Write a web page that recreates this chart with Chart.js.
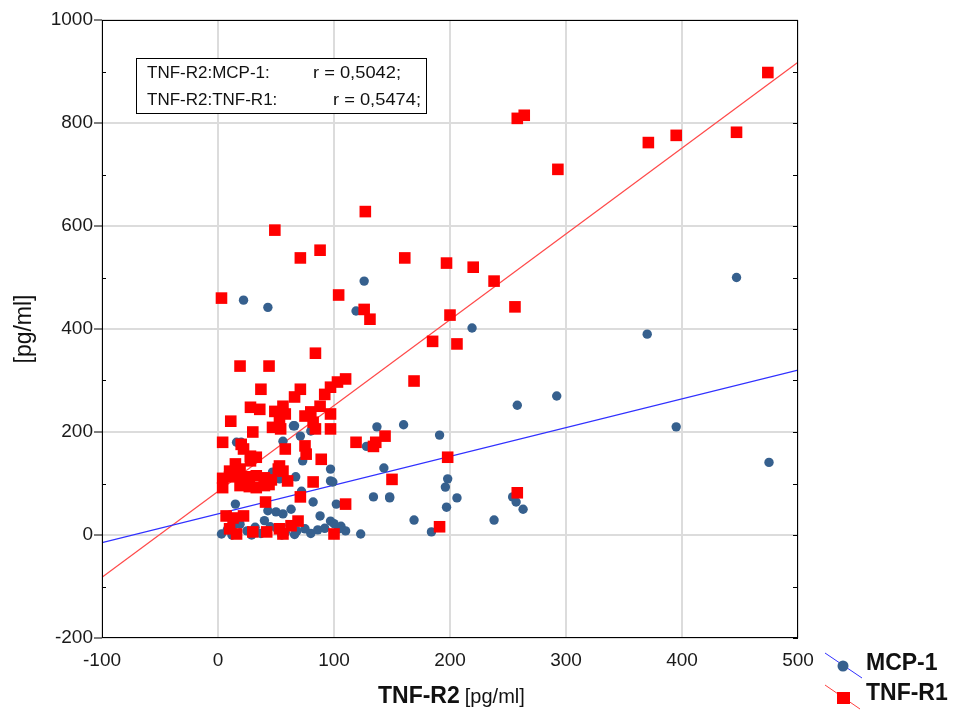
<!DOCTYPE html>
<html>
<head>
<meta charset="utf-8">
<script src="https://cdn.jsdelivr.net/npm/chart.js@4"></script>
<style>
  html, body { margin: 0; padding: 0; background: #fff; }
  #wrap { position: relative; width: 954px; height: 717px; }
</style>
</head>
<body>
<div id="wrap"><canvas id="scatter" width="954" height="717"></canvas></div>
<script>
// TNF-R2 vs MCP-1 (blue circles)
const mcpX = [22, 43, 126, 119, 219, 370, 447, 292, 258, 395, 475, 198, 196, 143, 206, 148, 197, 169, 238, 184,
	254, 257, 263, 191, 160, 137, 134, 66, 80, 56, 20, 71, 73, 97, 47, 53, 67, 97, 72, 82,
	102, 15, 43, 50, 56, 63, 88, 97, 106, 110, 123, 128, 16, 65, 59, 3, 8, 14, 19, 25,
	32, 37, 45, 51, 58, 62, 68, 75, 80, 86, 92, 100, 104, 40, 29, 55, 66, 12, 148, 99];
const mcpY = [456, 442, 493, 435, 402, 390, 500, 270, 252, 210, 141, 109, 93, 130, 72, 72, 54, 29, 29, 6,
	74, 64, 50, 194, 214, 210, 74, 212, 202, 182, 180, 192, 144, 128, 122, 109, 113, 105, 85, 64,
	60, 60, 47, 45, 41, 50, 37, 27, 17, 8, 2, 172, 180, 212, 105, 2, 10, 20, 21, 8,
	15, 3, 16, 12, 5, 19, 8, 12, 3, 10, 13, 22, 12, 28, 0, 0, 1, 0, 74, 103];

// TNF-R2 vs TNF-R1 (red squares)
const r1X = [474, 395, 371, 447, 293, 258, 264, 238, 256, 220, 197, 200, 206, 185, 169, 161, 127, 126, 131, 104,
	88, 71, 49, 3, 198, 258, 191, 150, 144, 136, 134, 119, 37, 71, 66, 110, 103, 97, 92, 84,
	19, 44, 28, 36, 49, 56, 58, 75, 80, 88, 97, 11, 47, 54, 53, 84, 97, 30, 4, 20,
	22, 58, 75, 76, 89, 28, 33, 28, 15, 19, 10, 53, 56, 82, 71, 110, 100, 82, 4, 10,
	16, 22, 27, 33, 40, 46, 52, 60, 4, 19, 27, 33, 40, 44, 41, 7, 13, 22, 10, 16,
	30, 42, 53, 56, 63, 69];
const r1Y = [898, 776, 762, 782, 710, 809, 815, 493, 443, 520, 528, 427, 371, 376, 299, 538, 628, 438, 419, 466,
	553, 538, 592, 460, 151, 82, 16, 108, 192, 180, 172, 180, 283, 283, 268, 303, 297, 287, 273, 353,
	328, 328, 248, 244, 240, 250, 235, 231, 239, 250, 235, 221, 209, 206, 219, 206, 206, 200, 180, 176,
	167, 167, 173, 157, 147, 153, 151, 144, 138, 128, 124, 134, 124, 103, 74, 60, 2, 219, 110, 113,
	115, 111, 113, 115, 111, 107, 128, 105, 92, 96, 94, 92, 96, 98, 64, 37, 33, 37, 12, 2,
	6, 6, 12, 2, 18, 27];

// fitted lines, read at the plot edges
const fitX = [-100, 500];
const mcpFitY = [-15, 320];
const r1FitY = [-82, 918];

const xTicks = [-100, 0, 100, 200, 300, 400, 500];
const yTicks = [-200, 0, 200, 400, 600, 800, 1000];

const noteNames = ["TNF-R2:MCP-1:", "TNF-R2:TNF-R1:"];
const noteR = ["r = 0,5042;", "r = 0,5474;"];
const legendNames = ["MCP-1", "TNF-R1"];

const pts = (xs, ys) => xs.map((x, i) => ({ x: x, y: ys[i] }));

const blue = "#36608e";
const red = "#ff0000";
const FONT = "'Liberation Sans', Arial, sans-serif";

// draw text squeezed/stretched to a given width
function fitText(ctx, txt, x, y, w) {
	const m = ctx.measureText(txt).width;
	ctx.save();
	ctx.translate(x, y);
	ctx.scale(w / m, 1);
	ctx.fillText(txt, 0, 0);
	ctx.restore();
}

const extras = {
	id: "extras",
	afterDraw(chart) {
		const ctx = chart.ctx;
		const ys = chart.scales.y;
		const a = chart.chartArea;
		ctx.save();

		// frame + inward ticks every 100
		ctx.strokeStyle = "#000";
		ctx.lineWidth = 1;
		ctx.strokeRect(a.left + 0.5, a.top + 0.5, a.right - a.left - 1, a.bottom - a.top - 1);
		ctx.beginPath();
		for (let v = -200; v <= 1000; v += 100) {
			const py = Math.round(ys.getPixelForValue(v)) + 0.5;
			if (v % 200 !== 0) {
				ctx.moveTo(a.left, py); ctx.lineTo(a.left + 4, py);
			}
			ctx.moveTo(a.right, py); ctx.lineTo(a.right - 5, py);
		}
		ctx.stroke();

		// correlation box
		ctx.fillStyle = "#fff";
		ctx.fillRect(136, 58, 290, 55);
		ctx.strokeRect(136.5, 58.5, 290, 55);
		ctx.fillStyle = "#111";
		ctx.font = "17px " + FONT;
		ctx.textBaseline = "middle";
		ctx.textAlign = "left";
		ctx.fillText(noteNames[0], 147, 73);
		fitText(ctx, noteR[0], 313, 73, 88);
		ctx.fillText(noteNames[1], 147, 100);
		fitText(ctx, noteR[1], 333, 100, 88);

		// axis titles
		ctx.textBaseline = "alphabetic";
		ctx.font = "bold 23px " + FONT;
		ctx.fillText("TNF-R2", 378, 703);
		const w1 = ctx.measureText("TNF-R2").width;
		ctx.font = "20px " + FONT;
		ctx.fillText("[pg/ml]", 378 + w1 + 5, 703);

		ctx.save();
		ctx.translate(25, 329);
		ctx.rotate(-Math.PI / 2);
		ctx.textAlign = "center";
		ctx.textBaseline = "middle";
		ctx.font = "23px " + FONT;
		ctx.fillText("[pg/ml]", 0, 0);
		ctx.restore();

		// legend
		ctx.lineWidth = 1;
		ctx.strokeStyle = "#3030ff";
		ctx.beginPath(); ctx.moveTo(825, 653); ctx.lineTo(862, 678); ctx.stroke();
		ctx.fillStyle = blue;
		ctx.beginPath(); ctx.arc(843, 666, 5.5, 0, Math.PI * 2); ctx.fill();
		ctx.strokeStyle = "#ff4040";
		ctx.beginPath(); ctx.moveTo(825, 685); ctx.lineTo(860, 709); ctx.stroke();
		ctx.fillStyle = red;
		ctx.fillRect(837, 692, 13, 12);
		ctx.fillStyle = "#111";
		ctx.font = "bold 23px " + FONT;
		ctx.textBaseline = "middle";
		ctx.fillText(legendNames[0], 866, 664);
		ctx.fillText(legendNames[1], 866, 694);
		ctx.restore();
	}
};

new Chart(document.getElementById("scatter").getContext("2d"), {
	type: "scatter",
	data: {
		datasets: [
			{
				label: "MCP-1",
				data: pts(mcpX, mcpY),
				pointStyle: "circle",
				pointRadius: 4.7,
				backgroundColor: blue,
				borderWidth: 0,
				order: 2,
			},
			{
				label: "TNF-R1",
				data: pts(r1X, r1Y),
				pointStyle: "rect",
				pointRadius: 8.2,
				backgroundColor: red,
				borderWidth: 0,
				order: 1,
			},
			{
				type: "line",
				label: "MCP-1 fit",
				data: pts(fitX, mcpFitY),
				borderColor: "#3030ff",
				borderWidth: 1.3,
				pointRadius: 0,
				order: 3,
			},
			{
				type: "line",
				label: "TNF-R1 fit",
				data: pts(fitX, r1FitY),
				borderColor: "#ff4a4a",
				borderWidth: 1.3,
				pointRadius: 0,
				order: 3,
			},
		],
	},
	options: {
		responsive: false,
		animation: false,
		layout: {
			padding: { left: 0, top: 20, right: 156, bottom: 0 },
		},
		plugins: {
			legend: { display: false },
			tooltip: { enabled: false },
		},
		scales: {
			x: {
				type: "linear",
				min: -100,
				max: 500,
				afterBuildTicks: function (s) { s.ticks = xTicks.map(v => ({ value: v })); },
				afterFit: function (s) { s.height = 79; },
				grid: {
					color: "#dcdcdc",
					lineWidth: 2,
					drawTicks: false,
				},
				border: { display: false },
				ticks: {
					padding: 11,
					color: "#1a1a1a",
					font: { size: 19, family: FONT },
					callback: v => String(v),
				},
			},
			y: {
				type: "linear",
				min: -200,
				max: 1000,
				afterBuildTicks: function (s) { s.ticks = yTicks.map(v => ({ value: v })); },
				afterFit: function (s) { s.width = 102; },
				grid: {
					color: "#dcdcdc",
					lineWidth: 2,
					drawTicks: true,
					tickLength: 8,
					tickColor: "#000",
					tickWidth: 1,
				},
				border: { display: false },
				ticks: {
					padding: 1,
					color: "#1a1a1a",
					font: { size: 19, family: FONT },
					callback: v => String(v),
				},
			},
		},
	},
	plugins: [extras],
});
</script>
</body>
</html>
